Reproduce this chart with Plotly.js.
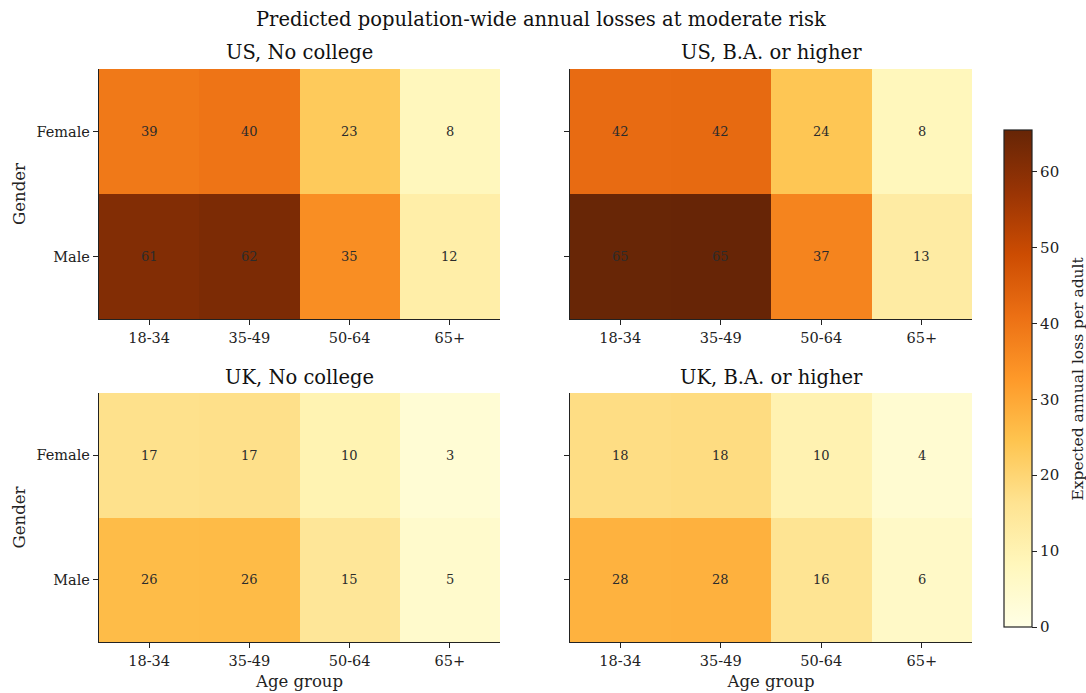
<!DOCTYPE html>
<html><head><meta charset="utf-8">
<script src="https://cdn.plot.ly/plotly-3.0.1.min.js"></script>
<style>body{margin:0;padding:0;background:#fff}#chart{width:1086px;height:693px}</style>
</head><body><div id="chart"></div>
<script>
const ageGroups = ['18-34','35-49','50-64','65+'];
const genders = ['Female','Male'];
const panelTitles = ['US, No college','US, B.A. or higher','UK, No college','UK, B.A. or higher'];
const usNoCollege = [[39.2,40.1,23.1,8.0],[61.0,62.0,35.0,12.0]];
const usBA = [[42.0,42.3,24.0,8.2],[65.2,65.4,37.0,13.0]];
const ukNoCollege = [[17.0,17.2,10.0,3.3],[26.0,26.2,15.0,5.0]];
const ukBA = [[18.0,18.3,10.2,4.0],[28.0,28.2,16.0,6.0]];
const panelData = [usNoCollege, usBA, ukNoCollege, ukBA];
const zMin = 0, zMax = 65.5;

const ylorbr = [[0,'#ffffe5'],[0.125,'#fff7bc'],[0.25,'#fee391'],[0.375,'#fec44f'],[0.5,'#fe9929'],[0.625,'#ec7014'],[0.75,'#cc4c02'],[0.875,'#993404'],[1,'#662506']];
const FONT = 'DejaVu Serif, serif';
const W = 1086, H = 693;
const px = (a,b)=>[a/W,b/W];
const py = (top,bot)=>[1-bot/H,1-top/H];
const xdoms = [px(99,500), px(570,972), px(99,500), px(570,972)];
const ydoms = [py(69,319), py(69,319), py(393,642), py(393,642)];

const traces = [];
const annotations = [];
const layout = {
  width: W, height: H, margin:{l:0,r:0,t:0,b:0},
  paper_bgcolor:'#fff', plot_bgcolor:'#fff',
  font:{family:FONT, color:'#222', size:12},
  showlegend:false
};
panelData.forEach((z,i)=>{
  const n = i===0?'':String(i+1);
  traces.push({
    type:'heatmap', x:ageGroups, y:genders, z:z,
    xaxis:'x'+n, yaxis:'y'+n,
    zmin:zMin, zmax:zMax, colorscale:ylorbr,
    showscale: i===0,
    colorbar: i===0 ? {
      x:1004/W, xanchor:'left', xpad:0, ypad:0, thickness:28, thicknessmode:'pixels',
      y:1-378.5/H, yanchor:'middle', len:497/H, lenmode:'fraction',
      outlinewidth:1.2, outlinecolor:'#222',
      tickvals:[0,10,20,30,40,50,60], ticks:'outside', ticklen:5, tickcolor:'#222',
      tickfont:{family:FONT,size:15,color:'#222'}
    } : undefined,
    hoverinfo:'none'
  });
  layout['xaxis'+n] = {
    domain:xdoms[i], anchor:'y'+n, type:'category',
    categoryorder:'array', categoryarray:ageGroups,
    showline:true, linecolor:'#222', linewidth:1.2, mirror:false,
    ticks:'outside', ticklen:5, tickcolor:'#222', showgrid:false, zeroline:false,
    tickfont:{family:FONT,size:14.5,color:'#222'},
    title: i>=2 ? {text:'Age group', font:{family:FONT,size:16.5,color:'#222'}, standoff:7} : undefined
  };
  layout['yaxis'+n] = {
    domain:ydoms[i], anchor:'x'+n, type:'category',
    categoryorder:'array', categoryarray:['Male','Female'],
    showline:true, linecolor:'#222', linewidth:1.2, mirror:false,
    ticks:'outside', ticklen:5, tickcolor:'#222', showgrid:false, zeroline:false,
    showticklabels: i%2===0,
    tickfont:{family:FONT,size:14.5,color:'#222'},
    title: i%2===0 ? {text:'Gender', font:{family:FONT,size:16.5,color:'#222'}, standoff:6} : undefined
  };
  annotations.push({
    text:panelTitles[i], xref:'paper', yref:'paper',
    x:(xdoms[i][0]+xdoms[i][1])/2, y:ydoms[i][1], yshift:16,
    xanchor:'center', yanchor:'middle', showarrow:false,
    font:{family:FONT,size:19.5,color:'#111'}
  });
  z.forEach((row,r)=>row.forEach((v,c)=>{
    annotations.push({
      text:String(Math.round(v)), xref:'x'+n, yref:'y'+n,
      x:ageGroups[c], y:genders[r], showarrow:false,
      font:{family:FONT,size:13,color:'#2b2b2b'}
    });
  }));
});
annotations.push({
  text:'Predicted population-wide annual losses at moderate risk',
  xref:'paper', yref:'paper', x:541/W, y:1-19/H, xanchor:'center', yanchor:'middle',
  showarrow:false, font:{family:FONT,size:19.5,color:'#111'}
});
annotations.push({
  text:'Expected annual loss per adult', xref:'paper', yref:'paper',
  x:1077/W, y:1-378.5/H, xanchor:'center', yanchor:'middle', textangle:-90,
  showarrow:false, font:{family:FONT,size:15.5,color:'#222'}
});
layout.annotations = annotations;
Plotly.newPlot('chart', traces, layout, {displayModeBar:false, staticPlot:true});
</script></body></html>
